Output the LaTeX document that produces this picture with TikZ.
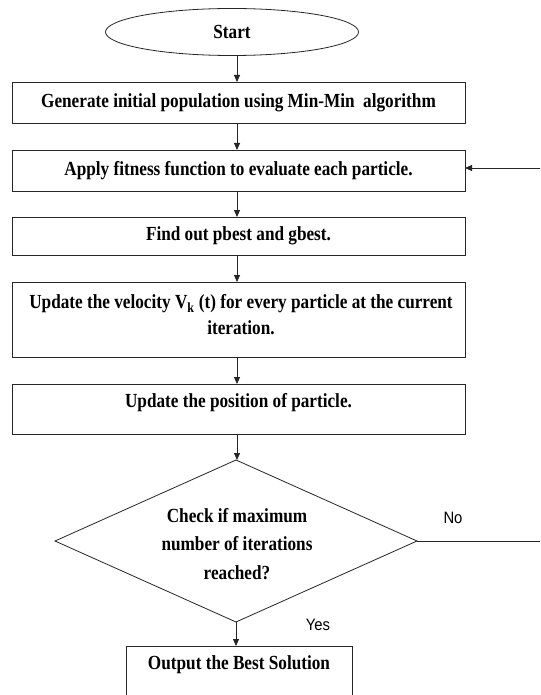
\documentclass[tikz,border=0pt]{standalone}
\usepackage{fontspec}
\setmainfont{Liberation Serif}[FakeStretch=0.86]
\newfontfamily\labfont{Liberation Sans}[FakeStretch=0.9]
\usetikzlibrary{shapes.geometric,arrows.meta,calc}
\tikzset{
  line/.style={draw=black!85, line width=0.8pt},
  arr/.style={line, -{Triangle[length=7pt,width=6pt]}},
  procbox/.style={line, rectangle, minimum width=453pt, inner sep=0pt, outer sep=0pt,
    font=\bfseries\fontsize{20}{26}\selectfont, align=center},
  term/.style={line, ellipse, minimum width=253pt, minimum height=47pt, inner sep=0pt, outer sep=0pt,
    font=\bfseries\fontsize{20}{26}\selectfont},
  decis/.style={line, diamond, aspect=2.23, minimum width=362pt, minimum height=162pt, inner sep=0pt, outer sep=0pt},
  txt/.style={inner sep=0pt, align=center, font=\bfseries\fontsize{20}{26}\selectfont},
  lab/.style={inner sep=0pt, font=\labfont\fontsize{16.5}{18}\selectfont}
}
\begin{document}
\begin{tikzpicture}[x=1pt, y=-1pt]
\clip (0,0) rectangle (540,695);
\fill[white] (0,0) rectangle (540,695);
\coordinate (ax) at (237,0);
\node[term] (start) at (232,32) {Start};
\node[procbox, minimum height=41pt] (gen) at (238.5,102.5) {Generate initial population using Min-Min\ \ algorithm};
\node[procbox, minimum height=41pt] (fit) at (238.5,170.5) {Apply fitness function to evaluate each particle.};
\node[procbox, minimum height=38pt] (find) at (238.5,236) {Find out pbest and gbest.};
\node[procbox, minimum height=75pt] (vel) at (238.5,319.5) {};
\node[txt, font=\bfseries\fontsize{20}{26}\selectfont] (veltxt) at (241,315) {Update the velocity V\textsubscript{k} (t) for every particle at the current\\iteration.};
\node[procbox, minimum height=50pt] (pos) at (238.5,409) {};
\node[txt] (postxt) at (238.5,403) {Update the position of particle.};
\node[decis] (dec) at (236,541) {};
\node[txt, font=\bfseries\fontsize{20}{28.5}\selectfont] (dectxt) at (237,544) {Check if maximum\\number of iterations\\reached?};
\node[line, rectangle, minimum width=226pt, minimum height=74pt, inner sep=0pt, outer sep=0pt] (out) at (239,683) {};
\node[txt] (outtxt) at (239,665) {Output the Best Solution};
\node[lab] (no) at (453,518) {No};
\node[lab] (yes) at (318,625) {Yes};
\draw[arr] (start.south -| ax) -- (gen.north -| ax);
\draw[arr] (gen.south -| ax) -- (fit.north -| ax);
\draw[arr] (fit.south -| ax) -- (find.north -| ax);
\draw[arr] (find.south -| ax) -- (vel.north -| ax);
\draw[arr] (vel.south -| ax) -- (pos.north -| ax);
\draw[arr] (pos.south -| ax) -- (dec.north -| ax);
\draw[arr] (dec.south) -- (dec.south |- out.north);
\coordinate (fb) at (548,168);
\draw[arr] (dec.east) -| (fb) -- (fb -| fit.east);
\end{tikzpicture}
\end{document}
